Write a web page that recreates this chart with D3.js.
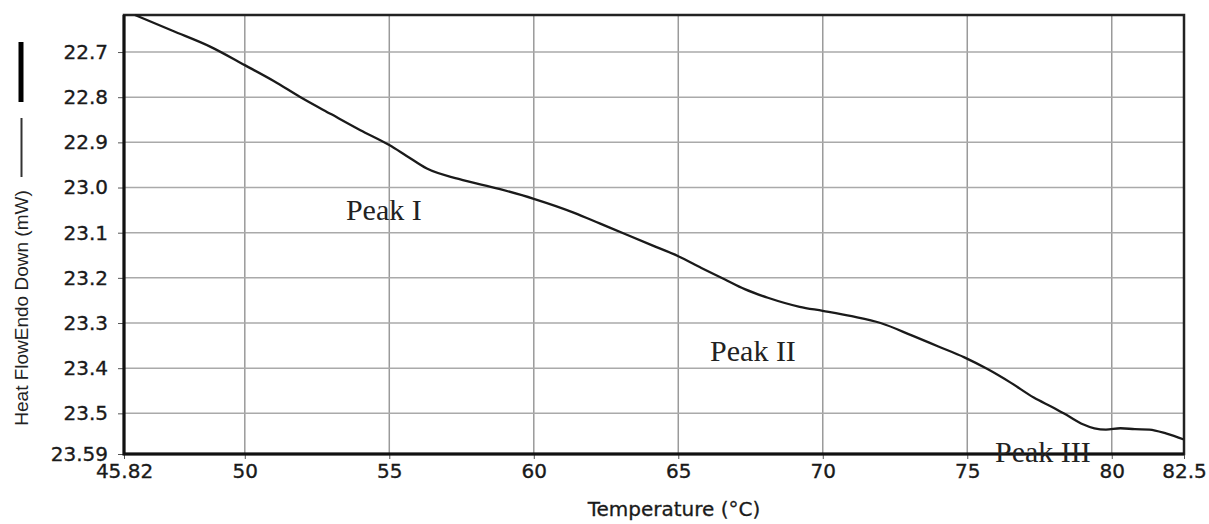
<!DOCTYPE html>
<html>
<head>
<meta charset="utf-8">
<script src="https://cdn.jsdelivr.net/npm/d3@7"></script>
<style>
  body { margin: 0; background: #fff; }
  .tick text { font-family: "DejaVu Sans", sans-serif; font-size: 20px; fill: #1a1a1a; stroke: #1a1a1a; stroke-width: 0.35px; }
</style>
</head>
<body>
<div class="dsc-chart"></div>
<script>
// temperature (°C) and heat flow (mW)
const temps = [46.2, 47.5, 48.8, 50.0, 51.0, 51.9, 53.0, 54.0, 55.0, 55.6, 56.3, 57.4, 58.8,
    60.0, 61.4, 62.3, 63.2, 64.1, 65.0, 65.8, 66.6, 67.3, 68.1, 69.2, 70.0, 71.0, 72.0,
    73.1, 74.0, 74.9, 75.7, 76.5, 77.3, 78.0, 78.5, 79.0, 79.4, 79.8, 80.3, 80.8, 81.3, 81.9, 82.5]
const heatFlow = [22.618, 22.653, 22.688, 22.729, 22.764, 22.799, 22.838, 22.873, 22.906, 22.930,
    22.958, 22.981, 23.003, 23.025, 23.056, 23.080, 23.104, 23.128, 23.152, 23.178, 23.203,
    23.225, 23.244, 23.264, 23.273, 23.285, 23.300, 23.328, 23.352, 23.376, 23.402, 23.432,
    23.465, 23.488, 23.506, 23.524, 23.533, 23.536, 23.533, 23.535, 23.536, 23.545, 23.558]

const xTicks = [45.82, 50, 55, 60, 65, 70, 75, 80, 82.5]
const xTickLabels = ["45.82", "50", "55", "60", "65", "70", "75", "80", "82.5"]
const yTicks = [22.7, 22.8, 22.9, 23.0, 23.1, 23.2, 23.3, 23.4, 23.5, 23.59]
const yTickLabels = ["22.7", "22.8", "22.9", "23.0", "23.1", "23.2", "23.3", "23.4", "23.5", "23.59"]

const peakNames = ["Peak I", "Peak II", "Peak III"]
const peakTemps = [53.5, 66.1, 75.96]
const peakFlows = [23.073, 23.384, 23.607]

const width = 1209
const height = 524
const margin = {top: 15, right: 25, bottom: 70, left: 124}

const svg = d3.select(".dsc-chart")
    .append("svg")
    .attr("width", width)
    .attr("height", height)

const x = d3.scaleLinear()
    .domain([45.82, 82.5])
    .range([margin.left, width - margin.right])

const y = d3.scaleLinear()
    .domain([22.618, 23.59])
    .range([margin.top, height - margin.bottom])

// grid
svg.append("g")
    .selectAll("line")
    .data(xTicks.slice(1, -1))
    .join("line")
    .attr("x1", d => x(d)).attr("x2", d => x(d))
    .attr("y1", y.range()[0]).attr("y2", y.range()[1])
    .attr("stroke", "#9a9a9a")
    .attr("stroke-width", 1.5)

svg.append("g")
    .selectAll("line")
    .data(yTicks.slice(0, -1))
    .join("line")
    .attr("x1", x.range()[0]).attr("x2", x.range()[1])
    .attr("y1", d => y(d)).attr("y2", d => y(d))
    .attr("stroke", "#aaa")
    .attr("stroke-width", 1.5)

// axes
const xAxis = svg.append("g")
    .attr("transform", `translate(0,${y.range()[1]})`)
    .call(d3.axisBottom(x).tickValues(xTicks).tickFormat((d, i) => xTickLabels[i]).tickSize(5).tickPadding(5))
xAxis.select(".domain").remove()
xAxis.selectAll(".tick line").attr("stroke", "#555")

const yAxis = svg.append("g")
    .attr("transform", `translate(${x.range()[0]},0)`)
    .call(d3.axisLeft(y).tickValues(yTicks).tickFormat((d, i) => yTickLabels[i]).tickSize(6).tickPadding(10))
yAxis.select(".domain").remove()
yAxis.selectAll(".tick line").attr("stroke", "#555")

// frame
svg.append("rect")
    .attr("x", x.range()[0]).attr("y", y.range()[0])
    .attr("width", x.range()[1] - x.range()[0])
    .attr("height", y.range()[1] - y.range()[0])
    .attr("fill", "none")
    .attr("stroke", "#222")
    .attr("stroke-width", 2.5)
svg.append("path")
    .attr("d", `M${x.range()[0]},${y.range()[0]}V${y.range()[1]}H${x.range()[1]}`)
    .attr("fill", "none")
    .attr("stroke", "#111")
    .attr("stroke-width", 3)

// trace
const line = d3.line()
    .x((d, i) => x(temps[i]))
    .y(d => y(d))
    .curve(d3.curveMonotoneX)

svg.append("path")
    .datum(heatFlow)
    .attr("d", line)
    .attr("fill", "none")
    .attr("stroke", "#1a1a1a")
    .attr("stroke-width", 2.3)

// peak labels
svg.append("g")
    .selectAll("text")
    .data(peakNames)
    .join("text")
    .attr("x", (d, i) => x(peakTemps[i]))
    .attr("y", (d, i) => y(peakFlows[i]))
    .attr("font-family", "'Liberation Serif', 'Times New Roman', serif")
    .attr("font-size", 30)
    .attr("fill", "#222")
    .text(d => d)

// axis titles
svg.append("text")
    .attr("x", (x.range()[0] + x.range()[1]) / 2 + 20)
    .attr("y", 516)
    .attr("text-anchor", "middle")
    .attr("font-family", "'DejaVu Sans', sans-serif")
    .attr("font-size", 20)
    .attr("fill", "#1a1a1a")
    .attr("stroke", "#1a1a1a")
    .attr("stroke-width", 0.3)
    .text("Temperature (°C)")

svg.append("text")
    .attr("transform", "translate(28,308) rotate(-90)")
    .attr("text-anchor", "middle")
    .attr("font-family", "'Liberation Sans', Arial, sans-serif")
    .attr("font-size", 19)
    .attr("fill", "#222")
    .text("Heat FlowEndo Down (mW)")

// legend marks beside the y title
svg.append("line")
    .attr("x1", 21).attr("x2", 21).attr("y1", 42).attr("y2", 102)
    .attr("stroke", "#000").attr("stroke-width", 5)
svg.append("line")
    .attr("x1", 21.5).attr("x2", 21.5).attr("y1", 118).attr("y2", 177)
    .attr("stroke", "#333").attr("stroke-width", 2)
</script>
</body>
</html>
